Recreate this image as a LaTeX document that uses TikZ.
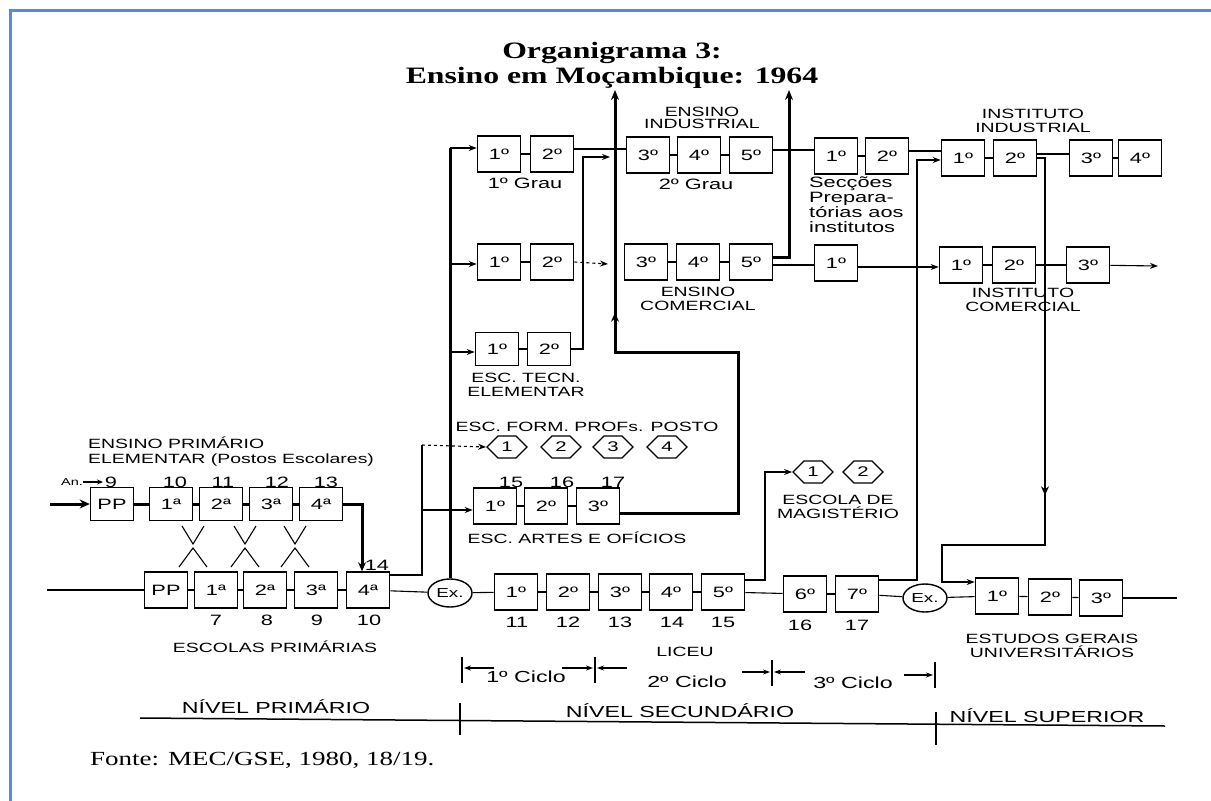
\documentclass[tikz,border=0pt]{standalone}
\usepackage{fontspec}
\setmainfont{Liberation Serif}
\newfontfamily\wide[FakeStretch=1.45]{Liberation Sans}
\newfontfamily\wideserif[FakeStretch=1.35]{Liberation Serif}
\usetikzlibrary{arrows.meta,shapes.geometric,shapes.symbols,decorations.markings}
\newcommand\fsz[1]{\fontsize{#1}{#1}\selectfont}
\tikzset{
 bx/.style={draw, line width=1.6pt, minimum width=43pt, minimum height=36pt, inner sep=0pt, font=\wide\fsz{15}},
 bxs/.style={bx, minimum height=33pt},
 hex/.style={draw, line width=1.3pt, shape=signal, signal to=east and west, minimum width=40pt, minimum height=22pt, inner sep=0pt, font=\wide\fsz{14}},
 exn/.style={draw, ellipse, line width=1.4pt, minimum width=44pt, minimum height=28pt, inner sep=0pt, font=\wide\fsz{13}},
 thn/.style={line width=1.1pt},
 thk/.style={line width=3pt},
 arr/.style={-{Stealth[length=8pt,width=6pt]}},
 lab/.style={inner sep=0pt, font=\wide\fsz{13.4}, align=center},
 num/.style={inner sep=0pt, font=\wide\fsz{15}},
 cyc/.style={inner sep=0pt, font=\wide\fsz{16}},
}
\begin{document}
\begin{tikzpicture}[x=1pt,y=-1pt]
\useasboundingbox (0,0) rectangle (1211,801);
\fill[white] (0,0) rectangle (1211,801);
\draw[line width=3pt, color={rgb,255:red,84;green,140;blue,214}] (10,801) -- (10,10) -- (1211,10);

% title
\node[inner sep=0pt, font=\wideserif\bfseries\fsz{23.5}] (tt1) at (612,53) {Organigrama 3:};
\node[inner sep=0pt, font=\wideserif\bfseries\fsz{23.5}] (tt2) at (612,78) {Ensino em Moçambique: 1964};

% row 1
\node[bx] (g1a) at (499,154) {1º};
\node[bx] (g1b) at (552,154) {2º};
\node[bx] (i3) at (648,155) {3º};
\node[bx] (i4) at (699,155) {4º};
\node[bx] (i5) at (751,155) {5º};
\node[bx] (sp1) at (836,156) {1º};
\node[bx] (sp2) at (887,156) {2º};
\node[bx] (ii1) at (963,158) {1º};
\node[bx] (ii2) at (1015,158) {2º};
\node[bx] (ii3) at (1091,158) {3º};
\node[bx] (ii4) at (1140,158) {4º};
% row 2
\node[bx] (c1a) at (499,262) {1º};
\node[bx] (c1b) at (552,262) {2º};
\node[bx] (com3) at (646,262) {3º};
\node[bx] (com4) at (698,262) {4º};
\node[bx] (com5) at (751,262) {5º};
\node[bx] (sr1) at (836,263) {1º};
\node[bx] (ic1) at (961,265) {1º};
\node[bx] (ic2) at (1014,265) {2º};
\node[bx] (ic3) at (1088,265) {3º};
% row 3
\node[bxs] (et1) at (497,349) {1º};
\node[bxs] (et2) at (549,349) {2º};
% hexagons
\node[hex] (hp1) at (507,447) {1};
\node[hex] (hp2) at (561,447) {2};
\node[hex] (hp3) at (613,447) {3};
\node[hex] (hp4) at (667,447) {4};
\node[hex] (hm1) at (813,472) {1};
\node[hex] (hm2) at (863,472) {2};
% artes
\node[bx] (ao1) at (495,506) {1º};
\node[bx] (ao2) at (546,506) {2º};
\node[bx] (ao3) at (598,506) {3º};
% primary top
\node[bxs] (pp) at (112,504) {PP};
\node[bxs] (p1) at (171,504) {1ª};
\node[bxs] (p2) at (221,504) {2ª};
\node[bxs] (p3) at (271,504) {3ª};
\node[bxs] (p4) at (321,504) {4ª};
% primary bottom
\node[bx] (pb0) at (166,590) {PP};
\node[bx] (b1) at (216,590) {1ª};
\node[bx] (b2) at (265,590) {2ª};
\node[bx] (b3) at (316,590) {3ª};
\node[bx] (b4) at (368,590) {4ª};
% secondary
\node[exn] (ex1) at (450,593) {Ex.};
\node[bx] (s1) at (516,592) {1º};
\node[bx] (s2) at (568,592) {2º};
\node[bx] (s3) at (620,592) {3º};
\node[bx] (s4) at (671,592) {4º};
\node[bx] (s5) at (723,592) {5º};
\node[bx] (s6) at (805,594) {6º};
\node[bx] (s7) at (857,594) {7º};
\node[exn] (ex2) at (925,598) {Ex.};
\node[bx] (u1) at (997,596) {1º};
\node[bx] (u2) at (1050,597) {2º};
\node[bx] (u3) at (1101,598) {3º};

% coordinates
\coordinate (topA) at (615,90);
\coordinate (topB) at (789,90);
\coordinate (inA) at (50,504);
\coordinate (inB) at (47,590);
\coordinate (vt) at (450,148);
\coordinate (vm) at (450,264);
\coordinate (vl) at (450,352);
\coordinate (jA) at (422,445);
\coordinate (jB) at (422,510);
\coordinate (dC) at (608,264);
\coordinate (eA) at (583,157);
\coordinate (eB) at (610,157);
\coordinate (outC) at (1158,266);
\coordinate (outU) at (1177,598);
\coordinate (mA) at (765,472);
\coordinate (kA) at (917,160);
\coordinate (rA) at (1045,545);
\coordinate (rB) at (942,545);
\coordinate (aA) at (738,513);
\coordinate (aB) at (738,352);
\coordinate (aC) at (615,352);

% primary connectors
\draw[thk, -{Stealth[length=10pt,width=9pt]}] (inA) -- (pp);
\draw[thk] (pp) -- (p1); \draw[thk] (p1) -- (p2); \draw[thk] (p2) -- (p3); \draw[thk] (p3) -- (p4);
\draw[thk, -{Stealth[length=9pt,width=8pt]}] (p4.east) -| ([xshift=-6pt]b4.north);
\foreach \xc in {193,245,295}{
  \draw[thn] (\xc-11,526) -- (\xc,544) -- (\xc+11,526);
  \draw[thn] (\xc-14,567) -- (\xc,548) -- (\xc+14,567);
}
\draw[thn] (inB) -- (pb0);
\draw[thn] (pb0) -- (b1); \draw[thn] (b1) -- (b2); \draw[thn] (b2) -- (b3); \draw[thn] (b3) -- (b4);
\draw[thn] (b4) -- (ex1);
\draw[thn] ([yshift=15pt]b4.east) -| (jA);
\draw[thn, dashed, arr] (jA) -- (hp1.west);
\draw[thn, arr] (jB) -- (jB -| ao1.west);

% thick vertical from Ex.
\draw[thk] (ex1.north) -- (vt);
\draw[thn, arr] (vt) -- (vt -| g1a.west);
\draw[thn, arr] (vm) -- (vm -| c1a.west);
\draw[thn, arr] (vl) -- (vl -| et1.west);

% row 1
\draw[thn] (g1a) -- (g1b);
\draw[thn] ([yshift=5pt]g1b.east) -- ([yshift=5pt]g1b.east -| i3.west);
\draw[thn] (i3) -- (i4); \draw[thn] (i4) -- (i5);
\draw[thn] ([yshift=5pt]i5.east) -- ([yshift=5pt]i5.east -| sp1.west);
\draw[thn] (sp1) -- (sp2);
\draw[thn] ([yshift=5pt]sp2.east) -- ([yshift=5pt]sp2.east -| ii1.west);
\draw[thn] (ii1) -- (ii2);
\draw[thn] ([yshift=4pt]ii2.east) -- ([yshift=4pt]ii2.east -| ii3.west);
\draw[thn] (ii3) -- (ii4);
\draw[thn, arr, postaction={decorate}, decoration={markings, mark=at position 345pt with {\arrow{Stealth[length=9pt,width=8pt]}}}]
  (ii2.east) -| (rA) -- (rB) |- ([yshift=14pt]u1.west);

% row 2
\draw[thn] (c1a) -- (c1b);
\draw[thn, dashed, arr] (c1b.east) -- (dC);
\draw[thn] (com3) -- (com4); \draw[thn] (com4) -- (com5);
\draw[thk, -{Stealth[length=10pt,width=8pt]}] ([yshift=5pt]com5.east) -| (topB);
\draw[thn] ([yshift=-3pt]com5.east) -- ([yshift=-3pt]com5.east -| sr1.west);
\draw[thn, arr] ([yshift=-4pt]sr1.east) -- ([yshift=-4pt]sr1.east -| ic1.west);
\draw[thn] (ic1) -- (ic2);
\draw[thn] (ic2) -- (ic3);
\draw[thn, arr] (ic3) -- (outC);

% row 3
\draw[thn] (et1) -- (et2);
\draw[thn, arr] (et2.east) -| (eA) -- (eB);

% artes
\draw[thn] (ao1) -- (ao2); \draw[thn] (ao2) -- (ao3);
\draw[thk, -{Stealth[length=10pt,width=8pt]}, postaction={decorate}, decoration={markings, mark=at position 441pt with {\arrow{Stealth[length=9pt,width=8pt]}}}]
  ([yshift=-7pt]ao3.east) -- (aA) -- (aB) -- (aC) -- (topA);

% secondary
\draw[thn] (ex1) -- (s1);
\draw[thn] (s1) -- (s2); \draw[thn] (s2) -- (s3); \draw[thn] (s3) -- (s4); \draw[thn] (s4) -- (s5);
\draw[thn] (s5) -- (s6); \draw[thn] (s6) -- (s7);
\draw[thn] (s7) -- (ex2); \draw[thn] (ex2) -- (u1);
\draw[thn] (u1) -- (u2); \draw[thn] (u2) -- (u3); \draw[thn] (u3) -- (outU);
\draw[thn, arr] ([yshift=12pt]s5.east) -| (mA) -- (hm1.west);
\draw[thn, arr] ([yshift=14pt]s7.east) -| (kA) -- (kA -| ii1.west);

% labels
\node[lab] (l1) at (702,118) {ENSINO\\[-1pt]INDUSTRIAL};
\node[num] (l2) at (525,183) {1º Grau};
\node[num] (l3) at (696,184) {2º Grau};
\node[lab, align=left, anchor=north west, font=\wide\fsz{15}] (l4) at (809,177) {Secções\\Prepara-\\tórias aos\\institutos};
\node[lab] (l5) at (1033,121) {INSTITUTO\\INDUSTRIAL};
\node[lab] (l6) at (698,299) {ENSINO\\COMERCIAL};
\node[lab] (l7) at (1023,300) {INSTITUTO\\COMERCIAL};
\node[lab] (l8) at (526,385) {ESC. TECN.\\ELEMENTAR};
\node[lab] (l9) at (587,427) {ESC. FORM. PROFs. POSTO};
\node[num] (n15) at (511,482) {15};
\node[num] (n16) at (562,482) {16};
\node[num] (n17) at (613,482) {17};
\node[lab] (l10) at (577,538) {ESC. ARTES E OFÍCIOS};
\node[lab] (l11) at (838,507) {ESCOLA DE\\MAGISTÉRIO};
\node[lab] (l12) at (1052,646) {ESTUDOS GERAIS\\UNIVERSITÁRIOS};
\node[lab, anchor=west] (l13) at (88,443) {ENSINO PRIMÁRIO};
\node[lab, anchor=west] (l14) at (88,460) {ELEMENTAR (Postos Escolares)};
\node[inner sep=0pt, font=\wide\fsz{10}] (an) at (72,482) {An.};
\coordinate (anA) at (83,482);
\coordinate (anB) at (103,482);
\draw[thn, -{Stealth[length=6pt,width=5pt]}] (anA) -- (anB);
\node[num] (n9) at (111,482) {9};
\node[num] (n10) at (175,482) {10};
\node[num] (n11) at (223,482) {11};
\node[num] (n12) at (277,482) {12};
\node[num] (n13) at (326,482) {13};
\node[num] (n14) at (377,565) {14};
\node[num] (n7) at (216,620) {7};
\node[num] (n8) at (267,620) {8};
\node[num] (n9b) at (317,620) {9};
\node[num] (n10b) at (369,620) {10};
\node[lab] (l15) at (275,647) {ESCOLAS PRIMÁRIAS};
\node[num] (m11) at (517,622) {11};
\node[num] (m12) at (568,622) {12};
\node[num] (m13) at (620,622) {13};
\node[num] (m14) at (672,622) {14};
\node[num] (m15) at (723,622) {15};
\node[num] (m16) at (800,625) {16};
\node[num] (m17) at (857,625) {17};
\node[lab] (l16) at (685,652) {LICEU};

% cycles
\coordinate (c1t) at (462,657); \coordinate (c1u) at (462,683);
\coordinate (c2t) at (595,657); \coordinate (c2u) at (595,683);
\coordinate (c3t) at (772,660); \coordinate (c3u) at (772,686);
\coordinate (c4t) at (935,662); \coordinate (c4u) at (935,688);
\draw[thn] (c1t) -- (c1u); \draw[thn] (c2t) -- (c2u); \draw[thn] (c3t) -- (c3u); \draw[thn] (c4t) -- (c4u);
\coordinate (k1a) at (494,668); \coordinate (k1b) at (464,668);
\coordinate (k2a) at (562,668); \coordinate (k2b) at (593,668);
\coordinate (k3a) at (627,668); \coordinate (k3b) at (597,668);
\coordinate (k4a) at (742,672); \coordinate (k4b) at (770,672);
\coordinate (k5a) at (805,672); \coordinate (k5b) at (774,672);
\coordinate (k6a) at (904,675); \coordinate (k6b) at (933,675);
\foreach \a/\b in {k1a/k1b,k2a/k2b,k3a/k3b,k4a/k4b,k5a/k5b,k6a/k6b}
  \draw[thn, -{Stealth[length=7pt,width=5pt]}] (\a) -- (\b);
\node[cyc] (cy1) at (526,677) {1º Ciclo};
\node[cyc] (cy2) at (687,682) {2º Ciclo};
\node[cyc] (cy3) at (853,683) {3º Ciclo};

% levels
\coordinate (lvA) at (140,718); \coordinate (lvB) at (1165,726);
\draw[line width=1.5pt] (lvA) -- (lvB);
\coordinate (lt1a) at (460,703); \coordinate (lt1b) at (460,735);
\coordinate (lt2a) at (936,712); \coordinate (lt2b) at (936,745);
\draw[thn] (lt1a) -- (lt1b); \draw[thn] (lt2a) -- (lt2b);
\node[cyc] (nv1) at (276,707) {NÍVEL PRIMÁRIO};
\node[cyc] (nv2) at (680,711) {NÍVEL SECUNDÁRIO};
\node[cyc] (nv3) at (1047,716) {NÍVEL SUPERIOR};
\node[anchor=west, inner sep=0pt, font=\wideserif\fsz{20}] (fonte) at (90,760) {Fonte: MEC/GSE, 1980, 18/19.};
\end{tikzpicture}
\end{document}
